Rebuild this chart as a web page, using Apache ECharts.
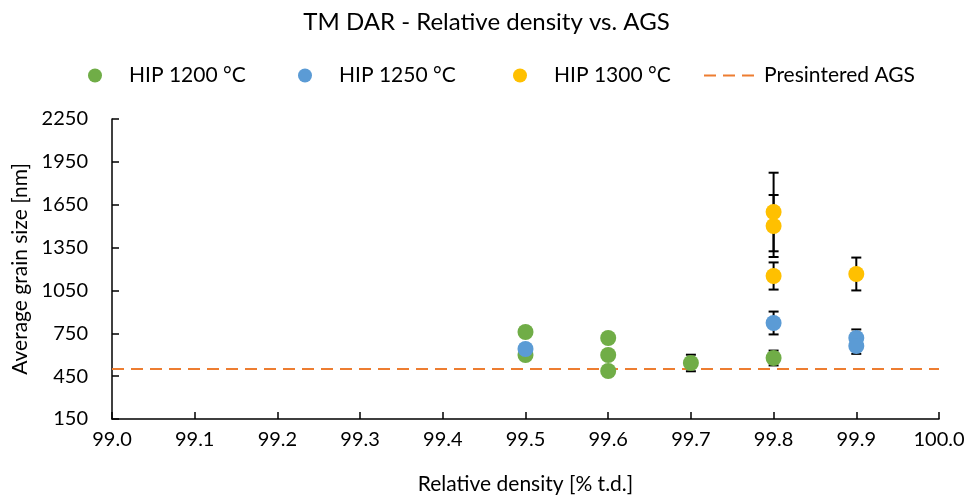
<!DOCTYPE html>
<html>
<head>
<meta charset="utf-8">
<script src="https://cdn.jsdelivr.net/npm/echarts@6/dist/echarts.min.js"></script>
<style>
html, body { margin: 0; padding: 0; background: #fff; }
#chart { width: 973px; height: 501px; }
</style>
</head>
<body>
<div id="chart"></div>
<script>
// data
var xTicks = [99.0, 99.1, 99.2, 99.3, 99.4, 99.5, 99.6, 99.7, 99.8, 99.9, 100.0];
var yTicks = [150, 450, 750, 1050, 1350, 1650, 1950, 2250];

var hip1200X = [99.5, 99.5, 99.6, 99.6, 99.6, 99.7, 99.8];
var hip1200Y = [759, 598, 717, 598, 486, 542, 577];
var hip1200Err = [30, 25, 25, 25, 20, 58, 52];

var hip1250X = [99.5, 99.8, 99.9, 99.9];
var hip1250Y = [640, 822, 717, 661];
var hip1250Err = [10, 80, 60, 55];

var hip1300X = [99.8, 99.8, 99.8, 99.9];
var hip1300Y = [1599, 1501, 1151, 1165];
var hip1300Err = [275, 217, 95, 115];

var presinteredAGS = 500;

var FONT = 'Lato';

function pts(xs, ys) {
    return xs.map(function (x, i) { return [x, ys[i]]; });
}
function errPts(xs, ys, es) {
    return xs.map(function (x, i) { return [x, ys[i] - es[i], ys[i] + es[i]]; });
}

function renderErr(params, api) {
    var x = api.value(0);
    var lo = api.coord([x, api.value(1)]);
    var hi = api.coord([x, api.value(2)]);
    var cap = 5;
    var style = { stroke: '#000', lineWidth: 2 };
    return {
        type: 'group',
        children: [
            { type: 'line', shape: { x1: lo[0], y1: lo[1], x2: hi[0], y2: hi[1] }, style: style },
            { type: 'line', shape: { x1: lo[0] - cap, y1: lo[1], x2: lo[0] + cap, y2: lo[1] }, style: style },
            { type: 'line', shape: { x1: hi[0] - cap, y1: hi[1], x2: hi[0] + cap, y2: hi[1] }, style: style }
        ]
    };
}

function errSeries(xs, ys, es) {
    return {
        type: 'custom',
        renderItem: renderErr,
        data: errPts(xs, ys, es),
        encode: { x: 0, y: [1, 2] },
        z: 2,
        silent: true
    };
}

var legendText = { fontFamily: FONT, fontSize: 21, color: '#000', padding: [0, 0, 0, 22] };
var dashText = { fontFamily: FONT, fontSize: 21, color: '#000', padding: [0, 0, 0, 5] };

var chart = echarts.init(document.getElementById('chart'));
var option = {
    backgroundColor: '#fff',
    animation: false,
    textStyle: { fontFamily: FONT },
    title: {
        text: 'TM DAR - Relative density vs. AGS',
        left: 'center',
        top: 5,
        textStyle: { fontFamily: FONT, fontSize: 24, fontWeight: 'normal', color: '#000' }
    },
    legend: [
        { data: ['HIP 1200 °C'], left: 83, top: 60, itemWidth: 14, itemHeight: 14, textStyle: legendText, icon: 'circle' },
        { data: ['HIP 1250 °C'], left: 293, top: 60, itemWidth: 14, itemHeight: 14, textStyle: legendText, icon: 'circle' },
        { data: ['HIP 1300 °C'], left: 508, top: 60, itemWidth: 14, itemHeight: 14, textStyle: legendText, icon: 'circle' },
        {
            data: [{ name: 'Presintered AGS', icon: 'path://M0,0h12v2h-12z M19,0h12v2h-12z M38,0h12v2h-12z' }],
            left: 699, top: 60, itemWidth: 50, itemHeight: 2, textStyle: dashText
        }
    ],
    grid: { left: 112, right: 34, top: 119, bottom: 82, containLabel: false },
    xAxis: {
        type: 'value',
        min: 99.0,
        max: 100.0,
        interval: 0.1,
        name: 'Relative density [% t.d.]',
        nameLocation: 'middle',
        nameGap: 55,
        nameTextStyle: { fontFamily: FONT, fontSize: 21, color: '#000' },
        axisLine: { lineStyle: { color: '#000', width: 1.5 } },
        axisTick: { inside: true, length: 7, lineStyle: { color: '#000', width: 1.5 } },
        axisLabel: {
            fontFamily: FONT, fontSize: 20, color: '#000', margin: 11,
            formatter: function (v) { return v.toFixed(1); }
        },
        splitLine: { show: false }
    },
    yAxis: {
        type: 'value',
        min: yTicks[0],
        max: yTicks[yTicks.length - 1],
        interval: 300,
        name: 'Average grain size [nm]',
        nameLocation: 'middle',
        nameGap: 80,
        nameTextStyle: { fontFamily: FONT, fontSize: 21, color: '#000' },
        axisLine: { show: true, lineStyle: { color: '#000', width: 1.5 } },
        axisTick: { show: true, inside: true, length: 7, lineStyle: { color: '#000', width: 1.5 } },
        axisLabel: {
            fontFamily: FONT, fontSize: 20, color: '#000', margin: 24,
            formatter: function (v) { return String(v); }
        },
        splitLine: { show: false }
    },
    series: [
        {
            name: 'Presintered AGS',
            type: 'line',
            data: [[xTicks[0], presinteredAGS], [xTicks[xTicks.length - 1], presinteredAGS]],
            showSymbol: false,
            lineStyle: { color: '#ED7D31', width: 2, type: [12, 7] },
            itemStyle: { color: '#ED7D31' },
            z: 1,
            silent: true
        },
        errSeries(hip1200X, hip1200Y, hip1200Err),
        errSeries(hip1250X, hip1250Y, hip1250Err),
        errSeries(hip1300X, hip1300Y, hip1300Err),
        {
            name: 'HIP 1200 °C',
            type: 'scatter',
            data: pts(hip1200X, hip1200Y),
            symbolSize: 16,
            itemStyle: { color: '#70AD47', opacity: 1 },
            z: 3
        },
        {
            name: 'HIP 1250 °C',
            type: 'scatter',
            data: pts(hip1250X, hip1250Y),
            symbolSize: 16,
            itemStyle: { color: '#5B9BD5', opacity: 1 },
            z: 4
        },
        {
            name: 'HIP 1300 °C',
            type: 'scatter',
            data: pts(hip1300X, hip1300Y),
            symbolSize: 16,
            itemStyle: { color: '#FFC000', opacity: 1 },
            z: 5
        }
    ]
};
chart.setOption(option);
</script>
</body>
</html>
